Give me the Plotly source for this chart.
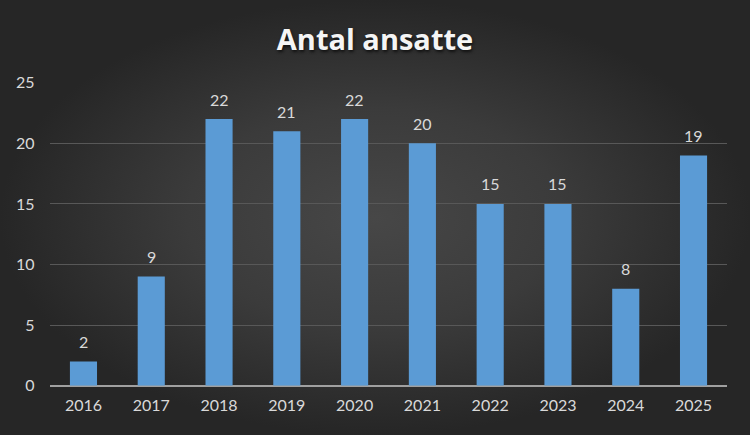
import plotly.graph_objects as go

# ── Data ───────────────────────────────────────────────────────────────────
YEARS = ["2016", "2017", "2018", "2019", "2020", "2021", "2022", "2023", "2024", "2025"]
EMPLOYEES = [2, 9, 22, 21, 22, 20, 15, 15, 8, 19]
Y_TICKS = [0, 5, 10, 15, 20, 25]

TEXT_COLOR = "#d9d9d9"
FONT = "Lato"

fig = go.Figure()

# radial-gradient backdrop on a full-paper helper subplot (drawn first = underneath)
fig.add_trace(go.Scatter(
    x=[0, 1, 1, 0, 0], y=[0, 0, 1, 1, 0], mode="lines", fill="toself",
    line=dict(width=0), hoverinfo="skip", showlegend=False,
    fillgradient=dict(type="radial",
                      colorscale=[[0, "#474747"], [0.5, "#3b3b3b"], [1, "#262626"]]),
    xaxis="x", yaxis="y",
))

fig.add_trace(go.Bar(
    x=YEARS, y=EMPLOYEES,
    marker=dict(color="#5b9bd5", line=dict(width=0)),
    showlegend=False, hoverinfo="x+y",
    xaxis="x2", yaxis="y2",
))

# value labels, floated a bit above each bar like the Excel original
# (x given as category index — "2016" strings would be read as numbers)
for i, n in enumerate(EMPLOYEES):
    fig.add_annotation(x=i, y=n, xref="x2", yref="y2", text=str(n), showarrow=False,
                       yanchor="middle", yshift=20,
                       font=dict(family=FONT, size=16, color=TEXT_COLOR))

fig.update_layout(
    width=750, height=435,
    margin=dict(l=0, r=0, t=0, b=0, autoexpand=False),
    paper_bgcolor="#2b2b2b", plot_bgcolor="rgba(0,0,0,0)",
    bargap=0.6,
    title=dict(text="<b>Antal ansatte</b>", x=0.5, xanchor="center", y=0.908, yanchor="middle",
               font=dict(family="Open Sans", size=29, color="#f5f5f5", shadow="1px 2px 3px #111")),
    xaxis=dict(domain=[0, 1], range=[0, 1], visible=False, fixedrange=True),
    yaxis=dict(domain=[0, 1], range=[0, 1], visible=False, fixedrange=True),
    xaxis2=dict(type="category", domain=[0.0661, 0.9699], range=[-0.5, len(YEARS) - 0.5],
                anchor="y2", showgrid=False, showline=False, ticks="", ticklabelstandoff=8,
                tickfont=dict(family=FONT, size=16, color=TEXT_COLOR)),
    yaxis2=dict(domain=[0.1133, 0.8099], anchor="x2", range=[0, 25], tickvals=Y_TICKS,
                showgrid=True, gridcolor="#585858", gridwidth=1.4,
                zeroline=True, zerolinecolor="#a0a0a0", zerolinewidth=2, showline=False,
                ticks="", ticklabelstandoff=14,
                tickfont=dict(family=FONT, size=16, color=TEXT_COLOR)),
)

# drop the default 8px page margin so the chart sits flush in the window
fig.write_html("out.html", config={"displayModeBar": False},
               post_script="document.body.style.margin='0';")
